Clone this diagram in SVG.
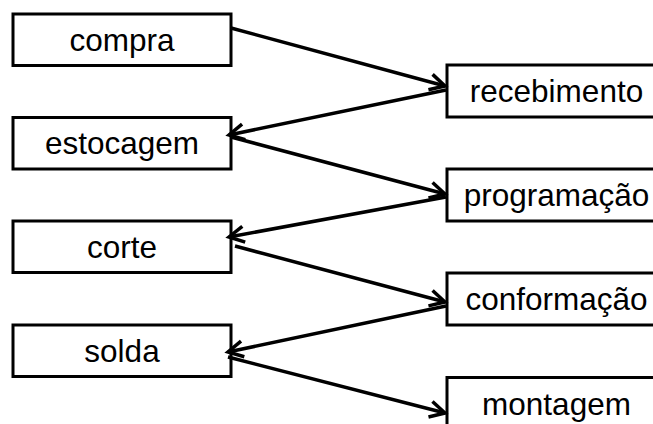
<svg xmlns="http://www.w3.org/2000/svg" width="653" height="424" viewBox="0 0 653 424">
  <style>
    .box { fill: #ffffff; stroke: #000000; stroke-width: 3; }
    .lbl { font-family: "Liberation Sans", Arial, sans-serif; font-size: 31.5px; fill: #000000; text-anchor: middle; }
    .link { fill: none; stroke: #000000; stroke-width: 3.5; marker-end: url(#open); }
  </style>
  <defs>
    <marker id="open" markerUnits="userSpaceOnUse" markerWidth="30" markerHeight="30" refX="0" refY="0" viewBox="-20 -15 30 30" orient="auto" overflow="visible">
      <path d="M-15,-8 L0,0 L-15,8" fill="none" stroke="#000000" stroke-width="3.5" stroke-linecap="butt" stroke-linejoin="miter"/>
    </marker>
  </defs>
  <rect width="653" height="424" fill="#ffffff"/>

  <!-- left column -->
  <g id="compra">
    <rect class="box" x="13" y="14" width="218" height="51.5"/>
    <text class="lbl" x="122" y="50.5">compra</text>
  </g>
  <g id="estocagem">
    <rect class="box" x="13" y="117.5" width="218" height="51.5"/>
    <text class="lbl" x="122" y="154">estocagem</text>
  </g>
  <g id="corte">
    <rect class="box" x="13" y="221" width="218" height="51.5"/>
    <text class="lbl" x="122" y="257.5">corte</text>
  </g>
  <g id="solda">
    <rect class="box" x="13" y="325" width="218" height="51.5"/>
    <text class="lbl" x="122" y="361.5">solda</text>
  </g>

  <!-- right column (runs past the right edge) -->
  <g id="recebimento">
    <rect class="box" x="447" y="65" width="219" height="52"/>
    <text class="lbl" x="556.5" y="102">recebimento</text>
  </g>
  <g id="programacao">
    <rect class="box" x="447" y="169" width="219" height="52"/>
    <text class="lbl" x="556.5" y="206">programação</text>
  </g>
  <g id="conformacao">
    <rect class="box" x="447" y="273" width="219" height="52"/>
    <text class="lbl" x="556.5" y="310">conformação</text>
  </g>
  <g id="montagem">
    <rect class="box" x="447" y="377.5" width="219" height="52"/>
    <text class="lbl" x="556.5" y="414.5">montagem</text>
  </g>

  <!-- connectors -->
  <g id="connectors">
    <line class="link" x1="231" y1="28" x2="445" y2="86"/>
    <line class="link" x1="446" y1="90" x2="229" y2="135"/>
    <line class="link" x1="231" y1="137" x2="445" y2="194"/>
    <line class="link" x1="446" y1="197" x2="229" y2="237"/>
    <line class="link" x1="235" y1="246" x2="445" y2="302"/>
    <line class="link" x1="446" y1="306" x2="228" y2="352"/>
    <line class="link" x1="228" y1="357" x2="445" y2="413"/>
  </g>
</svg>
